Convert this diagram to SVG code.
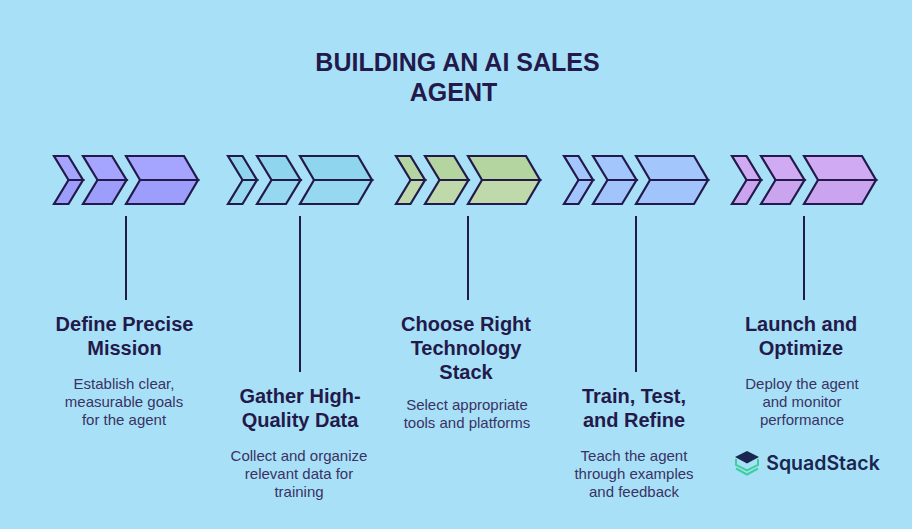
<svg xmlns="http://www.w3.org/2000/svg" width="912" height="529" viewBox="0 0 912 529">
<style>
.bg{fill:#a8e1f7}
.c{stroke:#231a4b;stroke-width:2.2;stroke-linejoin:miter}
.l{stroke:#231a4b;stroke-width:2;fill:none}
text{font-family:"Liberation Sans",Arial,sans-serif;text-anchor:middle;fill:#231a4b}
.t{font-size:25px;font-weight:700}
.h{font-size:20px;font-weight:700}
.d{font-size:15px;font-weight:400;fill:#3a3264}
.a1{fill:#a5a5ff}.b1{fill:#9d9dfc}
.a2{fill:#90d5ee}.b2{fill:#95d8f0}
.a3{fill:#b5d5a0}.b3{fill:#bfd9aa}
.a4{fill:#a3c6fd}.b4{fill:#a1c4fd}
.a5{fill:#d0aaf2}.b5{fill:#caa4ee}
</style>
<rect class="bg" width="912" height="529"/>
<text class="t" x="457.500" y="71">BUILDING AN AI SALES</text>
<text class="t" x="453.500" y="101">AGENT</text>
<g id="connectors">
<path class="l" d="M126 216V300"/>
<path class="l" d="M300 216V372"/>
<path class="l" d="M468 216V300"/>
<path class="l" d="M636 216V372"/>
<path class="l" d="M804 216V300"/>
</g>
<g id="step1" transform="translate(54 0)">
<path class="c a1" d="M0 156H14.500L29 180H14.500Z"/><path class="c b1" d="M14.500 180H29L14.500 204H0Z"/>
<path class="c a1" d="M29 156H58L72.500 180H43.500Z"/><path class="c b1" d="M43.500 180H72.500L58 204H29Z"/>
<path class="c a1" d="M72 156H130L144 180H86Z"/><path class="c b1" d="M86 180H144L130 204H72Z"/>
</g>
<g id="step2" transform="translate(228 0)">
<path class="c a2" d="M0 156H14.500L29 180H14.500Z"/><path class="c b2" d="M14.500 180H29L14.500 204H0Z"/>
<path class="c a2" d="M29 156H58L72.500 180H43.500Z"/><path class="c b2" d="M43.500 180H72.500L58 204H29Z"/>
<path class="c a2" d="M72 156H130L144 180H86Z"/><path class="c b2" d="M86 180H144L130 204H72Z"/>
</g>
<g id="step3" transform="translate(396 0)">
<path class="c a3" d="M0 156H14.500L29 180H14.500Z"/><path class="c b3" d="M14.500 180H29L14.500 204H0Z"/>
<path class="c a3" d="M29 156H58L72.500 180H43.500Z"/><path class="c b3" d="M43.500 180H72.500L58 204H29Z"/>
<path class="c a3" d="M72 156H130L144 180H86Z"/><path class="c b3" d="M86 180H144L130 204H72Z"/>
</g>
<g id="step4" transform="translate(564 0)">
<path class="c a4" d="M0 156H14.500L29 180H14.500Z"/><path class="c b4" d="M14.500 180H29L14.500 204H0Z"/>
<path class="c a4" d="M29 156H58L72.500 180H43.500Z"/><path class="c b4" d="M43.500 180H72.500L58 204H29Z"/>
<path class="c a4" d="M72 156H130L144 180H86Z"/><path class="c b4" d="M86 180H144L130 204H72Z"/>
</g>
<g id="step5" transform="translate(732 0)">
<path class="c a5" d="M0 156H14.500L29 180H14.500Z"/><path class="c b5" d="M14.500 180H29L14.500 204H0Z"/>
<path class="c a5" d="M29 156H58L72.500 180H43.500Z"/><path class="c b5" d="M43.500 180H72.500L58 204H29Z"/>
<path class="c a5" d="M72 156H130L144 180H86Z"/><path class="c b5" d="M86 180H144L130 204H72Z"/>
</g>
<g id="label1">
<text class="h" x="124.500" y="331">Define Precise</text><text class="h" x="124.500" y="355">Mission</text>
<text class="d" x="124" y="389">Establish clear,</text><text class="d" x="124" y="407">measurable goals</text><text class="d" x="124" y="425">for the agent</text>
</g>
<g id="label2">
<text class="h" x="300" y="403">Gather High-</text><text class="h" x="300" y="427">Quality Data</text>
<text class="d" x="299" y="461">Collect and organize</text><text class="d" x="299" y="479">relevant data for</text><text class="d" x="299" y="497">training</text>
</g>
<g id="label3">
<text class="h" x="466" y="331">Choose Right</text><text class="h" x="466" y="355">Technology</text><text class="h" x="466" y="379">Stack</text>
<text class="d" x="467" y="410">Select appropriate</text><text class="d" x="467" y="428">tools and platforms</text>
</g>
<g id="label4">
<text class="h" x="634" y="403">Train, Test,</text><text class="h" x="634" y="427">and Refine</text>
<text class="d" x="634" y="461">Teach the agent</text><text class="d" x="634" y="479">through examples</text><text class="d" x="634" y="497">and feedback</text>
</g>
<g id="label5">
<text class="h" x="801" y="331">Launch and</text><text class="h" x="801" y="355">Optimize</text>
<text class="d" x="802" y="389">Deploy the agent</text><text class="d" x="802" y="407">and monitor</text><text class="d" x="802" y="425">performance</text>
</g>
<g id="logo">
<path d="M736 459V465L747 470.500L758 465V459M736 468.500L747 474.500L758 468.500" fill="none" stroke="#3ecf9e" stroke-width="2"/>
<path d="M735 457L747 451L759 457L747 463.500Z" fill="#1a2550"/>
<text x="823" y="470" style="font-family:Inter,'Liberation Sans',sans-serif;font-size:19.500px;font-weight:600;fill:#1a2550">SquadStack</text>
</g>
</svg>
